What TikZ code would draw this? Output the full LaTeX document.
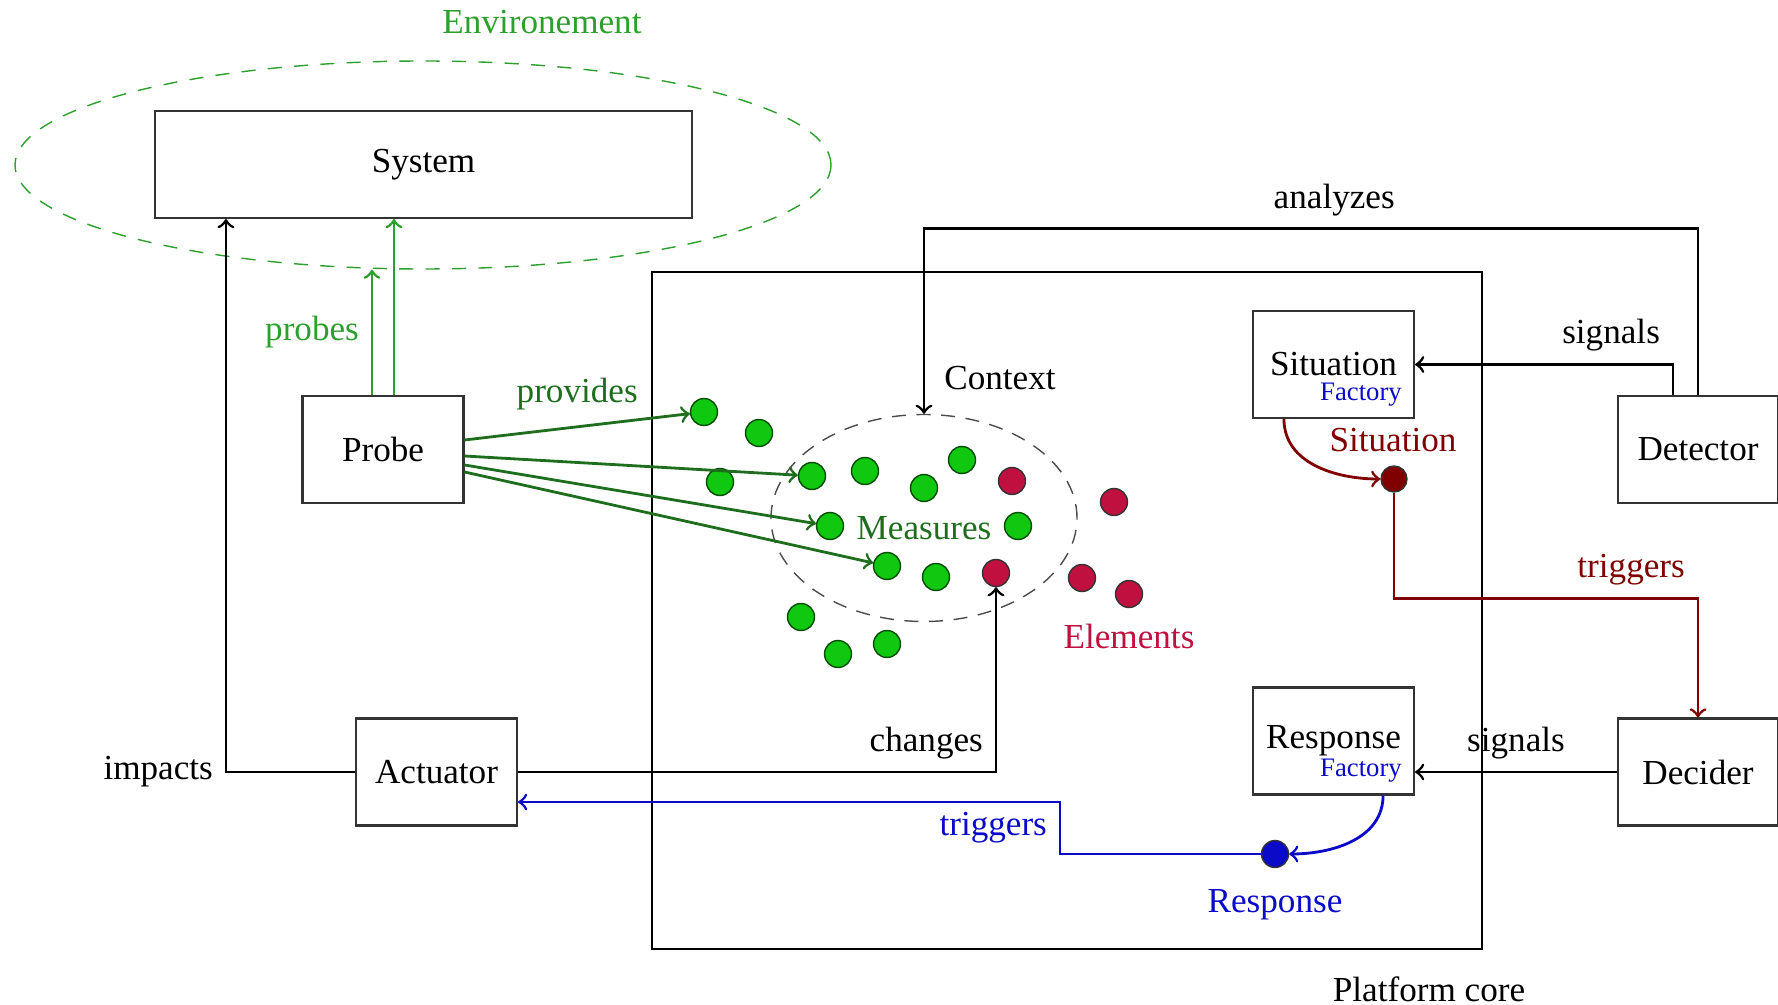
\documentclass[tikz,border=0pt]{standalone}
\usepackage{fontspec}
\setmainfont{Liberation Serif}
\usetikzlibrary{shapes.geometric}
\definecolor{envgreen}{RGB}{44,160,44}
\definecolor{provgreen}{RGB}{30,110,30}
\definecolor{dotgreen}{RGB}{16,200,16}
\definecolor{elemred}{RGB}{192,16,64}
\definecolor{sitcol}{RGB}{128,0,0}
\definecolor{respcol}{RGB}{10,10,200}
\tikzset{
	box/.style={draw=black!80, semithick, fill=white, minimum width=1.61cm, minimum height=1.07cm, inner sep=0pt},
	factory/.style={text=respcol, font=\fontsize{7.6}{8}\selectfont, inner sep=0pt},
	mdot/.style={circle, draw=green!30!black, fill=dotgreen, minimum size=0.27cm, inner sep=0pt},
	edot/.style={circle, draw=black!80, fill=elemred, minimum size=0.27cm, inner sep=0pt},
	arr/.style={->, thick},
	provarr/.style={->, thick, provgreen},
	probearr/.style={->, thick, envgreen},
}
\begin{document}
\begin{tikzpicture}[font=\fontsize{10}{12}\selectfont]
	\useasboundingbox (0,0) rectangle (17.78,-10.05);
	\node[ellipse, draw=envgreen, dash pattern=on 4pt off 3.5pt, minimum width=8.16cm, minimum height=2.08cm] (env) at (4.23,-1.65) {};
	\node[text=envgreen] (envlabel) at (5.42,-0.22) {Environement};
	\node[box, minimum width=5.37cm] (system) at (4.235,-1.645) {System};
	\node[draw, thick, minimum width=8.3cm, minimum height=6.77cm] (core) at (10.67,-6.105) {};
	\node (corelabel) at (14.29,-9.89) {Platform core};

	\node[box] (probe) at (3.83,-4.495) {Probe};
	\node[box] (actuator) at (4.365,-7.72) {Actuator};
	\node[box] (sitfac) at (13.335,-3.645) {Situation};
	\node[factory] (sitfaclabel) at ([xshift=2.75mm, yshift=-3.05mm]sitfac.center) {Factory};
	\node[box] (respfac) at (13.335,-7.41) {Response};
	\node[factory] (respfaclabel) at ([xshift=2.75mm, yshift=-3.0mm]respfac.center) {Factory};
	\node[box, minimum width=1.6cm] (detector) at (16.98,-4.495) {Detector};
	\node[box, minimum width=1.6cm] (decider) at (16.98,-7.72) {Decider};

	\node[ellipse, draw=black!70, dash pattern=on 4pt off 3pt, minimum width=3.06cm, minimum height=2.07cm] (context) at (9.24,-5.18) {};
	\node (ctxlabel) at (10.0,-3.78) {Context};
	\foreach \n/\x/\y in {1/7.04/-4.12, 2/7.59/-4.33, 3/7.20/-4.82, 4/8.12/-4.76, 5/8.65/-4.71, 6/9.24/-4.88, 7/9.62/-4.60, 8/8.30/-5.26, 9/10.18/-5.26, 10/8.87/-5.66, 11/9.36/-5.77, 12/8.01/-6.17, 13/8.38/-6.54, 14/8.87/-6.44}
	{
		\node[mdot] (m\n) at (\x,\y) {};
	}
	\foreach \n/\x/\y in {1/10.12/-4.81, 2/11.14/-5.02, 3/9.96/-5.73, 4/10.82/-5.78, 5/11.29/-5.94}
	{
		\node[edot] (e\n) at (\x,\y) {};
	}
	\node[text=provgreen] (measlabel) at (9.24,-5.28) {Measures};
	\node[text=elemred] (elemlabel) at (11.29,-6.36) {Elements};

	\node[circle, draw=black!80, fill=sitcol, minimum size=0.26cm, inner sep=0pt] (sit) at (13.94,-4.79) {};
	\node[text=sitcol] (sitlabel) at (13.93,-4.40) {Situation};
	\node[circle, draw=black!80, fill=respcol, minimum size=0.27cm, inner sep=0pt] (resp) at (12.75,-8.54) {};
	\node[text=respcol] (resplabel) at (12.75,-9.05) {Response};

	\draw[probearr] ([xshift=-1.1mm]probe.north) -- node[midway, left]{probes} ([xshift=-1.1mm]probe.north |- env.south);
	\draw[probearr] ([xshift=1.1mm]probe.north) -- ([xshift=1.1mm]probe.north |- system.south);
	\draw[provarr] ([yshift=0.95mm]probe.east) -- node[midway, above=1pt]{provides} (m1);
	\foreach \s/\t in {-0.65mm/m4, -1.55mm/m8, -2.25mm/m10}
	{
		\draw[provarr] ([yshift=\s]probe.east) -- (\t);
	}

	\draw[arr] (actuator.west) -| node[pos=0.5, left]{impacts} ([xshift=0.72cm]system.south west);
	\draw[arr] (actuator.east) -| node[pos=0.5, above left]{changes} (e3);
	\draw[arr] (detector.north) |- node[pos=0.735, above]{analyzes} ([yshift=1.85cm]context.north) -- (context.north);
	\draw[arr] ([xshift=-2.5mm]detector.north) |- node[pos=0.62, above]{signals} (sitfac.east);
	\draw[arr] (decider.west) -- node[midway, above]{signals} (decider.west -| respfac.east);

	\draw[arr, sitcol] ([xshift=3.2mm]sitfac.south west) to[out=-90, in=180] (sit.west);
	\draw[arr, sitcol] (sit.south) |- node[pos=0.89, above]{triggers} ([yshift=1.19cm]decider.north) -- (decider.north);

	\coordinate (tbend) at (10.6,-8.02);
	\draw[arr, respcol] ([xshift=-3.2mm]respfac.south east) to[out=-90, in=0] (resp.east);
	\draw[arr, respcol] (resp.west) -| node[pos=0.75, left]{triggers} (tbend) -- (tbend -| actuator.east);
\end{tikzpicture}
\end{document}
